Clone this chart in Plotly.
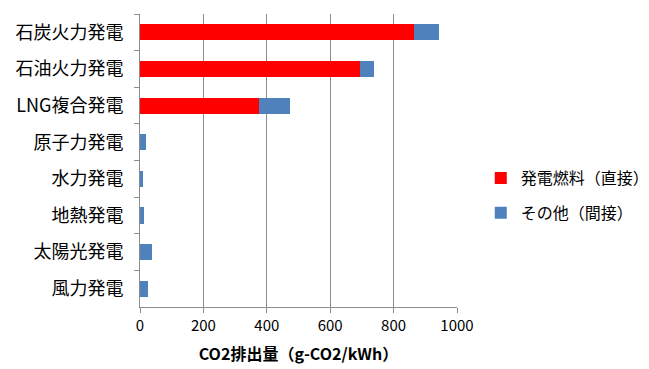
import plotly.graph_objects as go

# Life-cycle CO2 emissions by power source (g-CO2/kWh)
sources = ["石炭火力発電", "石油火力発電", "LNG複合発電", "原子力発電",
           "水力発電", "地熱発電", "太陽光発電", "風力発電"]
direct = [864, 695, 376, 0, 0, 0, 0, 0]
indirect = [79, 43, 98, 20, 11, 13, 38, 26]
x_ticks = [0, 200, 400, 600, 800, 1000]

FONT = "Noto Sans CJK JP"
GRID = "#8c8c8c"

fig = go.Figure()
fig.add_trace(go.Bar(
    y=sources, x=direct, orientation="h", name="発電燃料（直接）",
    marker=dict(color="#ff0000", line=dict(width=0)), legendgroup="a",
))
fig.add_trace(go.Bar(
    y=sources, x=indirect, orientation="h", name="その他（間接）",
    marker=dict(color="#4f81bd", line=dict(width=0)), legendgroup="b",
))

fig.update_layout(
    width=649, height=369,
    margin=dict(l=140, r=192, t=14, b=62, autoexpand=False),
    barmode="stack", bargap=0.56,
    plot_bgcolor="white", paper_bgcolor="white",
    font=dict(family=FONT, color="#000000", size=15),
    legend=dict(
        x=1.075, y=0.38, xanchor="left", yanchor="middle",
        traceorder="grouped", tracegroupgap=11,
        font=dict(size=16), itemwidth=30,
    ),
    xaxis=dict(
        range=[0, 1000], tickvals=x_ticks, ticks="outside", ticklen=5,
        tickcolor=GRID, showgrid=True, gridcolor=GRID, gridwidth=1,
        showline=True, linecolor=GRID, zeroline=False,
        tickfont=dict(size=15, family=FONT),
        title=dict(text="<b>CO2排出量（g-CO2/kWh）</b>",
                   font=dict(size=16, family=FONT), standoff=14),
    ),
    yaxis=dict(
        categoryorder="array", categoryarray=sources, autorange="reversed",
        ticks="outside", ticklen=5, tickcolor=GRID, tickson="boundaries",
        showline=True, linecolor=GRID, showgrid=False,
        tickfont=dict(size=18, family=FONT), ticklabelstandoff=12,
    ),
)

fig.write_html("out.html")
